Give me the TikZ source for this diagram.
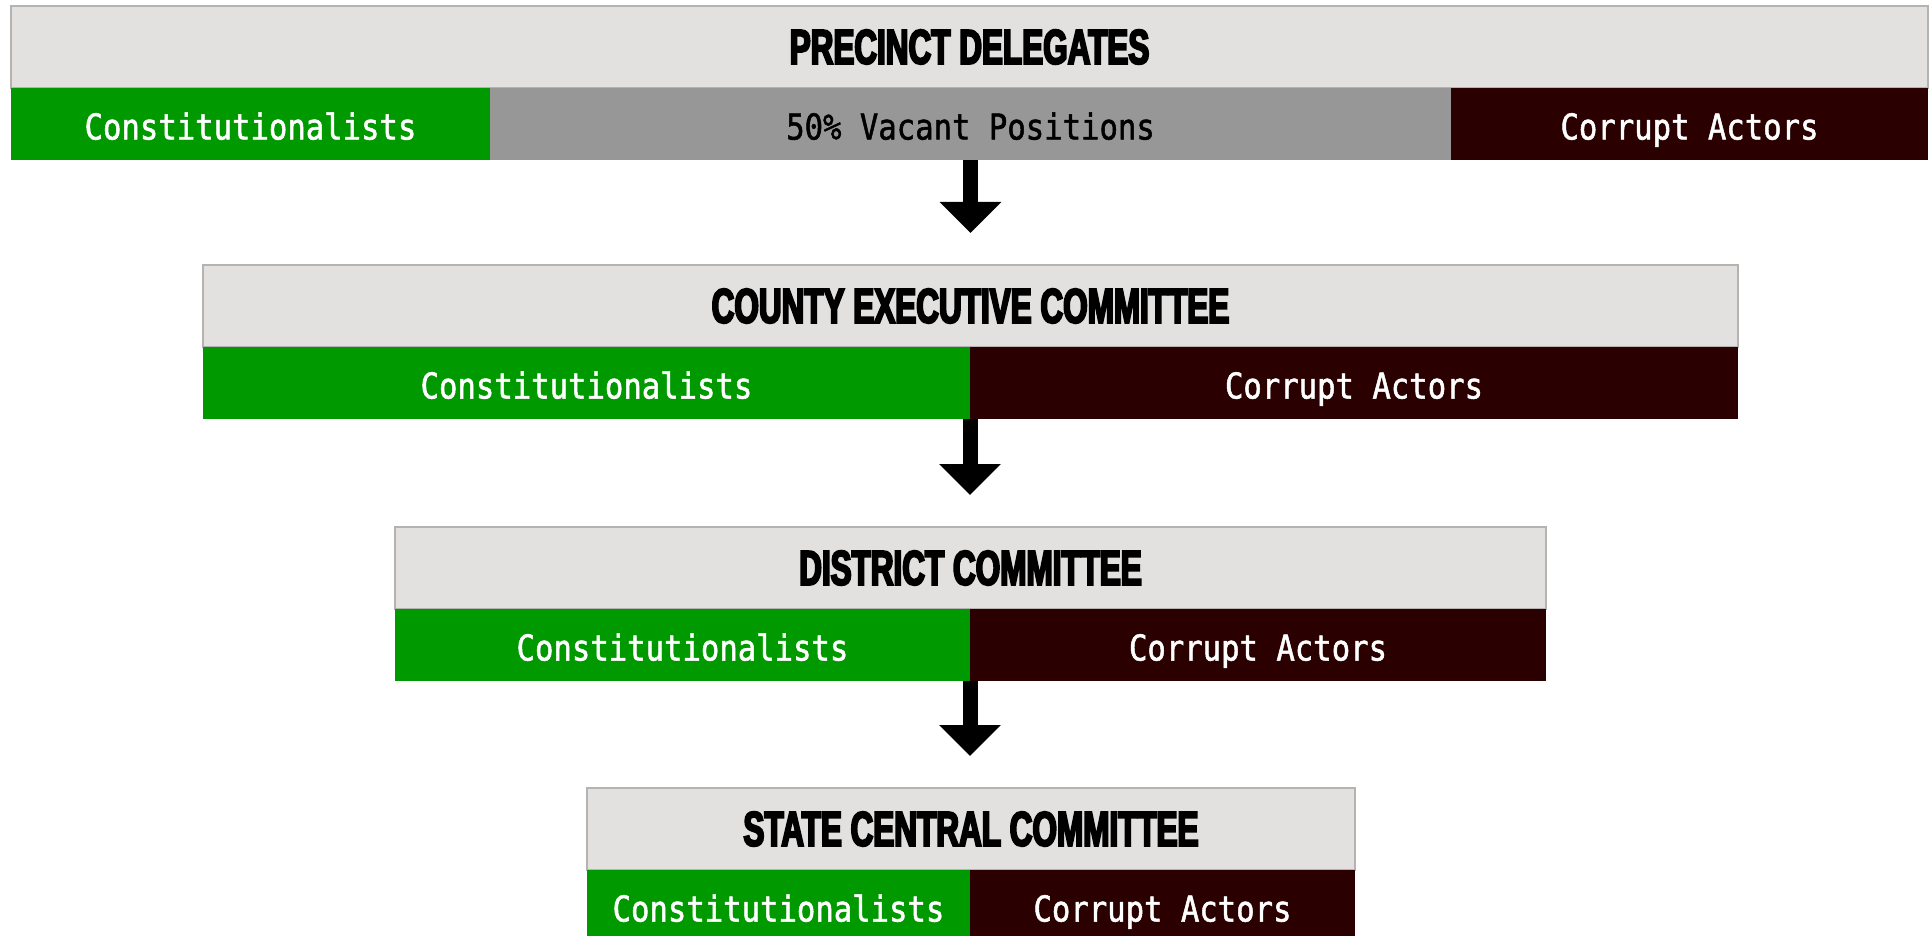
\documentclass[tikz,border=0pt]{standalone}
\usepackage{fontspec}
\usetikzlibrary{positioning,arrows.meta}
\newfontfamily\headfont{Liberation Sans}[FakeStretch=0.645,BoldFeatures={FakeBold=4}]
\newfontfamily\cellfont{DejaVu Sans Mono}[FakeStretch=0.86,FakeBold=1.4]
\definecolor{head fill}{HTML}{E2E1E0}
\definecolor{head edge}{HTML}{B4B3B2}
\definecolor{con green}{HTML}{009A00}
\definecolor{vac gray}{HTML}{979797}
\definecolor{cor dark}{HTML}{2A0000}
\tikzset{head/.style={fill=head fill, draw=head edge, line width=0.6pt, inner sep=0pt, outer sep=0pt,
		minimum height=41pt, font=\headfont\bfseries\fontsize{24.4}{26}\selectfont},
	cell/.style={inner sep=0pt, outer sep=0pt, minimum height=36pt, text height=15.5pt, text depth=0pt,
		font=\cellfont\fontsize{17.8}{19}\selectfont},
	con/.style={cell, fill=con green, text=white},
	vac/.style={cell, fill=vac gray, text=black},
	cor/.style={cell, fill=cor dark, text=white},
	down/.style={line width=7.5pt, -{Triangle[width=30pt,length=15.5pt]}, shorten >=16pt}}

\begin{document}
\begin{tikzpicture}[x=0.5pt,y=-0.5pt]
		\useasboundingbox (0,0) rectangle (1931,936);
		% precinct
		\node[head, minimum width=958.5pt, anchor=north west] (p-head) at (11,6) {PRECINCT DELEGATES};
		\node[con, minimum width=239.5pt, below right=0pt of p-head.south west] (p-con) {Constitutionalists};
		\node[vac, minimum width=480.5pt, right=0pt of p-con] (p-vac) {50\% Vacant Positions};
		\node[cor, minimum width=238.5pt, right=0pt of p-vac] (p-cor) {Corrupt Actors};
		
		% county
		\node[head, minimum width=767.5pt, anchor=north west] (c-head) at (203,265) {COUNTY EXECUTIVE COMMITTEE};
		\node[con, minimum width=383.5pt, below right=0pt of c-head.south west] (c-con) {Constitutionalists};
		\node[cor, minimum width=384pt, right=0pt of c-con] (c-cor) {Corrupt Actors};
		
		% district
		\node[head, minimum width=575.5pt, anchor=north west] (d-head) at (395,527) {DISTRICT COMMITTEE};
		\node[con, minimum width=287.5pt, below right=0pt of d-head.south west] (d-con) {Constitutionalists};
		\node[cor, minimum width=288pt, right=0pt of d-con] (d-cor) {Corrupt Actors};
		
		% state
		\node[head, minimum width=384pt, anchor=north west] (s-head) at (587,788) {STATE CENTRAL COMMITTEE};
		\node[con, minimum width=191.5pt, below right=0pt of s-head.south west] (s-con) {Constitutionalists};
		\node[cor, minimum width=192.5pt, right=0pt of s-con] (s-cor) {Corrupt Actors};
		
		\draw[down] (p-vac.south) -- (p-vac.south |- c-head.north);
		\draw[down] (c-con.south east) -- (c-con.south east |- d-head.north);
		\draw[down] (d-con.south east) -- (d-con.south east |- s-head.north);
		\end{tikzpicture}
\end{document}
